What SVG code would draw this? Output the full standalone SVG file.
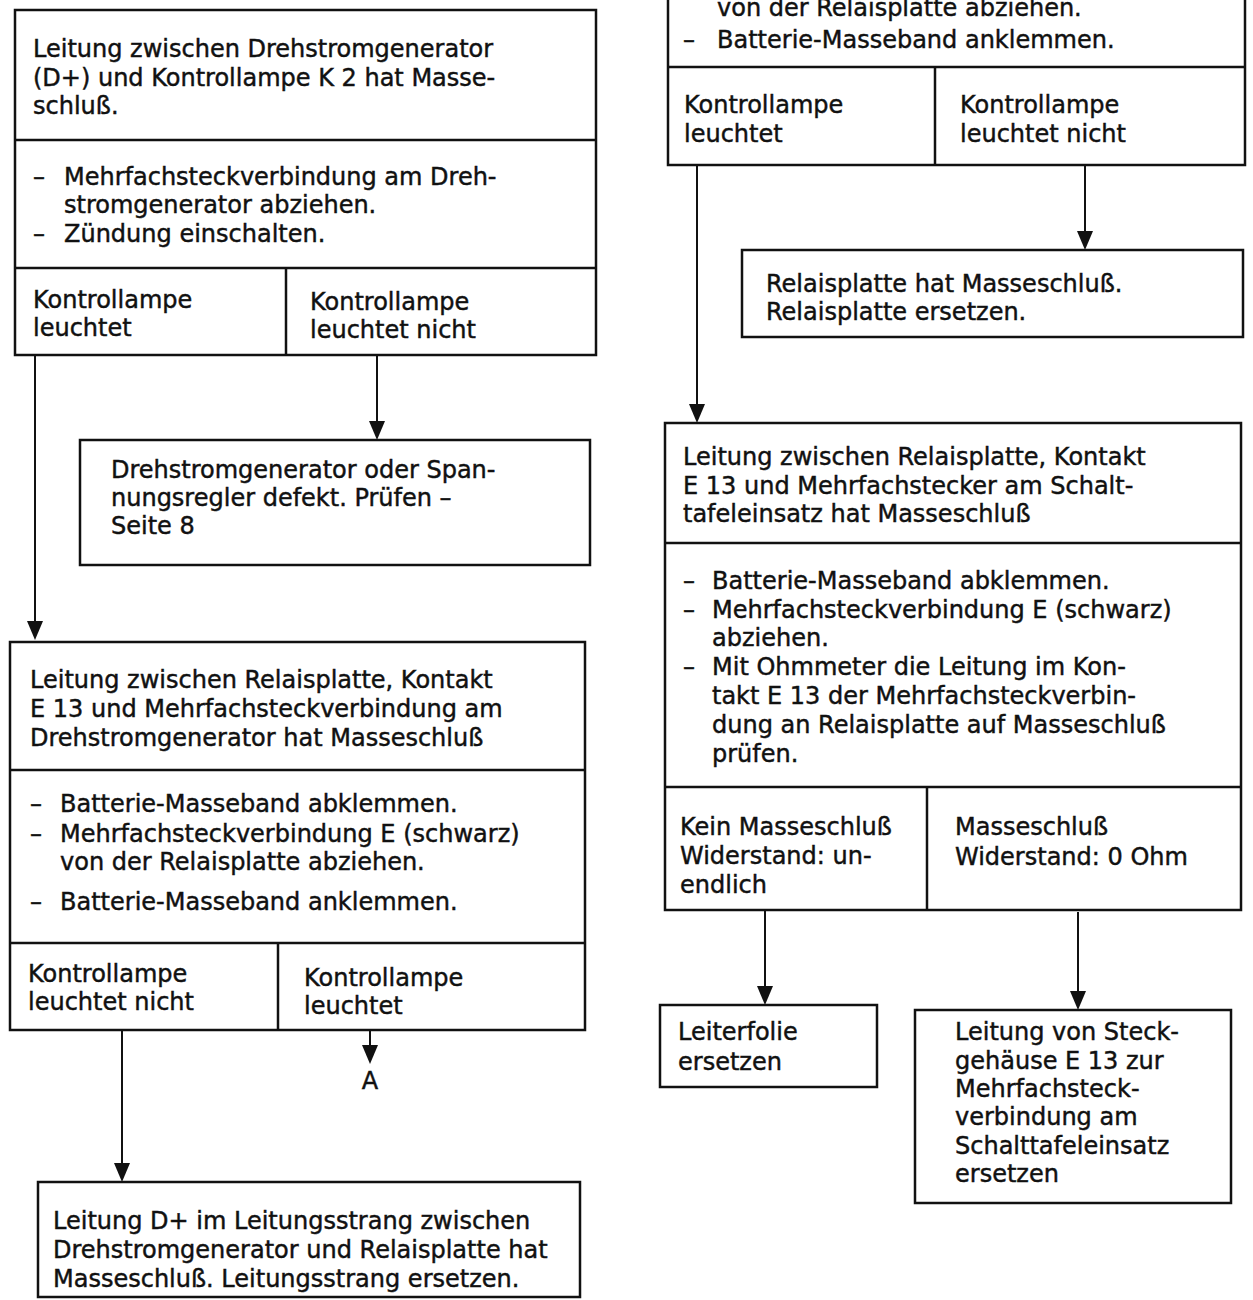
<svg xmlns="http://www.w3.org/2000/svg" width="1253" height="1300" viewBox="0 0 1253 1300">
<defs>
<style>
.box{fill:none;stroke:#111;stroke-width:2.5}
.div{stroke:#111;stroke-width:2.5}
.con{stroke:#111;stroke-width:2;fill:none}
.ah{fill:#111}
text{font-family:"DejaVu Sans","Liberation Sans",sans-serif;font-size:24px;fill:#111;stroke:#111;stroke-width:0.45}
</style>
</defs>
<rect width="1253" height="1300" fill="#fff"/>

<g id="connectors">
<path class="con" d="M35,355 V622"/><path class="ah" d="M27,621 L43,621 L35,640 Z"/>
<path class="con" d="M377,355 V422"/><path class="ah" d="M369,421 L385,421 L377,440 Z"/>
<path class="con" d="M122,1030 V1164"/><path class="ah" d="M114,1163 L130,1163 L122,1182 Z"/>
<path class="con" d="M370,1030 V1046"/><path class="ah" d="M362,1045 L378,1045 L370,1064 Z"/>
<text x="370" y="1089" text-anchor="middle">A</text>
<path class="con" d="M697,165 V405"/><path class="ah" d="M689,404 L705,404 L697,423 Z"/>
<path class="con" d="M1085,165 V232"/><path class="ah" d="M1077,231 L1093,231 L1085,250 Z"/>
<path class="con" d="M765,910 V987"/><path class="ah" d="M757,986 L773,986 L765,1005 Z"/>
<path class="con" d="M1078,912 V992"/><path class="ah" d="M1070,991 L1086,991 L1078,1010 Z"/>
</g>

<g id="n1">
<rect class="box" x="15" y="10" width="581" height="345"/>
<line class="div" x1="15" y1="140" x2="596" y2="140"/>
<line class="div" x1="15" y1="268" x2="596" y2="268"/>
<line class="div" x1="286" y1="268" x2="286" y2="355"/>
<text x="33" y="57">Leitung zwischen Drehstromgenerator</text>
<text x="33" y="86">(D+) und Kontrollampe K 2 hat Masse-</text>
<text x="33" y="114">schluß.</text>
<text x="33" y="185">–</text><text x="64" y="185">Mehrfachsteckverbindung am Dreh-</text>
<text x="64" y="213">stromgenerator abziehen.</text>
<text x="33" y="242">–</text><text x="64" y="242">Zündung einschalten.</text>
<text x="33" y="308">Kontrollampe</text>
<text x="33" y="336">leuchtet</text>
<text x="310" y="310">Kontrollampe</text>
<text x="310" y="338">leuchtet nicht</text>
</g>

<g id="n2">
<rect class="box" x="80" y="440" width="510" height="125"/>
<text x="111" y="478">Drehstromgenerator oder Span-</text>
<text x="111" y="506">nungsregler defekt. Prüfen –</text>
<text x="111" y="534">Seite 8</text>
</g>

<g id="n3">
<rect class="box" x="10" y="642" width="575" height="388"/>
<line class="div" x1="10" y1="770" x2="585" y2="770"/>
<line class="div" x1="10" y1="943" x2="585" y2="943"/>
<line class="div" x1="278" y1="943" x2="278" y2="1030"/>
<text x="30" y="688">Leitung zwischen Relaisplatte, Kontakt</text>
<text x="30" y="717">E 13 und Mehrfachsteckverbindung am</text>
<text x="30" y="746">Drehstromgenerator hat Masseschluß</text>
<text x="30" y="812">–</text><text x="60" y="812">Batterie-Masseband abklemmen.</text>
<text x="30" y="842">–</text><text x="60" y="842">Mehrfachsteckverbindung E (schwarz)</text>
<text x="60" y="870">von der Relaisplatte abziehen.</text>
<text x="30" y="910">–</text><text x="60" y="910">Batterie-Masseband anklemmen.</text>
<text x="28" y="982">Kontrollampe</text>
<text x="28" y="1010">leuchtet nicht</text>
<text x="304" y="986">Kontrollampe</text>
<text x="304" y="1014">leuchtet</text>
</g>

<g id="n4">
<rect class="box" x="38" y="1182" width="542" height="115"/>
<text x="53" y="1229">Leitung D+ im Leitungsstrang zwischen</text>
<text x="53" y="1258">Drehstromgenerator und Relaisplatte hat</text>
<text x="53" y="1287">Masseschluß. Leitungsstrang ersetzen.</text>
</g>

<g id="r1">
<rect class="box" x="668" y="-10" width="577" height="175"/>
<line class="div" x1="668" y1="67" x2="1245" y2="67"/>
<line class="div" x1="935" y1="67" x2="935" y2="165"/>
<text x="717" y="16">von der Relaisplatte abziehen.</text>
<text x="683" y="48">–</text><text x="717" y="48">Batterie-Masseband anklemmen.</text>
<text x="684" y="113">Kontrollampe</text>
<text x="684" y="142">leuchtet</text>
<text x="960" y="113">Kontrollampe</text>
<text x="960" y="142">leuchtet nicht</text>
</g>

<g id="r2">
<rect class="box" x="742" y="250" width="501" height="87"/>
<text x="766" y="292">Relaisplatte hat Masseschluß.</text>
<text x="766" y="320">Relaisplatte ersetzen.</text>
</g>

<g id="r3">
<rect class="box" x="665" y="423" width="576" height="487"/>
<line class="div" x1="665" y1="543" x2="1241" y2="543"/>
<line class="div" x1="665" y1="787" x2="1241" y2="787"/>
<line class="div" x1="927" y1="787" x2="927" y2="910"/>
<text x="683" y="465">Leitung zwischen Relaisplatte, Kontakt</text>
<text x="683" y="494">E 13 und Mehrfachstecker am Schalt-</text>
<text x="683" y="522">tafeleinsatz hat Masseschluß</text>
<text x="683" y="589">–</text><text x="712" y="589">Batterie-Masseband abklemmen.</text>
<text x="683" y="618">–</text><text x="712" y="618">Mehrfachsteckverbindung E (schwarz)</text>
<text x="712" y="646">abziehen.</text>
<text x="683" y="675">–</text><text x="712" y="675">Mit Ohmmeter die Leitung im Kon-</text>
<text x="712" y="704">takt E 13 der Mehrfachsteckverbin-</text>
<text x="712" y="733">dung an Relaisplatte auf Masseschluß</text>
<text x="712" y="762">prüfen.</text>
<text x="680" y="835">Kein Masseschluß</text>
<text x="680" y="864">Widerstand: un-</text>
<text x="680" y="893">endlich</text>
<text x="955" y="835">Masseschluß</text>
<text x="955" y="865">Widerstand: 0 Ohm</text>
</g>

<g id="r4">
<rect class="box" x="660" y="1005" width="217" height="82"/>
<text x="678" y="1040">Leiterfolie</text>
<text x="678" y="1070">ersetzen</text>
</g>

<g id="r5">
<rect class="box" x="915" y="1010" width="316" height="193"/>
<text x="955" y="1040">Leitung von Steck-</text>
<text x="955" y="1069">gehäuse E 13 zur</text>
<text x="955" y="1097">Mehrfachsteck-</text>
<text x="955" y="1125">verbindung am</text>
<text x="955" y="1154">Schalttafeleinsatz</text>
<text x="955" y="1182">ersetzen</text>
</g>
</svg>
